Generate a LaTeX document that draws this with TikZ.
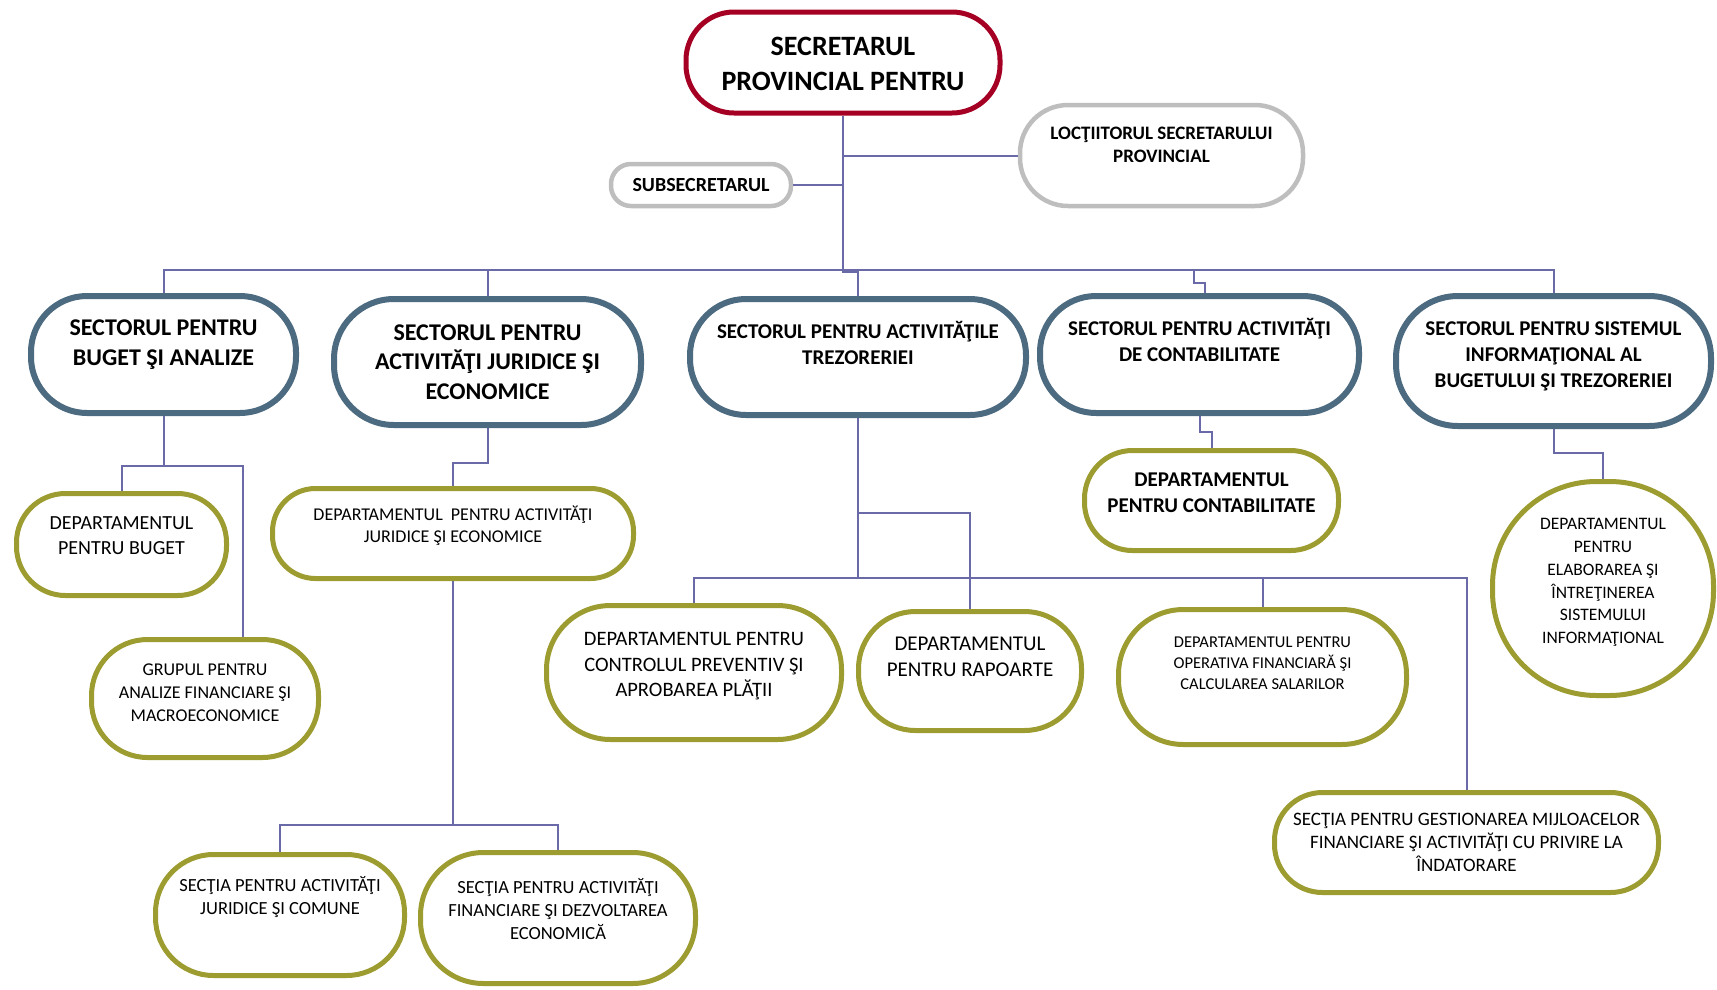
\documentclass[tikz,border=0pt]{standalone}
\usepackage{fontspec}
\setmainfont{Carlito}
\definecolor{secred}{RGB}{165,0,36}
\definecolor{boxgray}{RGB}{190,190,190}
\definecolor{secblue}{RGB}{77,107,128}
\definecolor{deptolive}{RGB}{156,156,48}
\definecolor{linkblue}{RGB}{106,106,168}
\newcommand{\fsz}[2]{\fontsize{#1}{#2}\selectfont}
\tikzset{
  box/.style={rectangle, inner sep=0pt, fill=white},
  redbox/.style={box, draw=secred, line width=5pt},
  graybox/.style={box, draw=boxgray, line width=4.5pt},
  secbox/.style={box, draw=secblue, line width=6pt},
  depbox/.style={box, draw=deptolive, line width=5pt},
  lbl/.style={align=center, inner sep=0pt},
  conn/.style={draw=linkblue, line width=2pt}
}
\begin{document}
\begin{tikzpicture}[x=1pt, y=-1pt]
  \useasboundingbox (0,0) rectangle (1717,989);

  % top level
  \node[redbox, minimum width=314, minimum height=101, rounded corners=48pt] (top) at (843,62.5) {};
  \node[lbl, font=\bfseries\fsz{28}{35}] (topT) at (843,63.5) {SECRETARUL\\PROVINCIAL PENTRU};
  \node[graybox, minimum width=180, minimum height=42, rounded corners=20pt] (sub) at (701,185) {};
  \node[lbl, font=\bfseries\fsz{20}{24}] (subT) at (701,185) {SUBSECRETARUL};
  \node[graybox, minimum width=283, minimum height=101, rounded corners=48pt] (loc) at (1161.5,155.5) {};
  \node[lbl, font=\bfseries\fsz{19}{23}] (locT) at (1161.5,145) {LOCŢIITORUL SECRETARULUI\\PROVINCIAL};

  % sectors
  \node[secbox, minimum width=265, minimum height=117, rounded corners=56pt] (sBuget) at (163.5,354.5) {};
  \node[lbl, font=\bfseries\fsz{24}{29.5}] (sBugetT) at (163.5,344.5) {SECTORUL PENTRU\\BUGET ŞI ANALIZE};
  \node[secbox, minimum width=307, minimum height=126, rounded corners=60pt] (sJuridic) at (487.5,362) {};
  \node[lbl, font=\bfseries\fsz{24}{29.5}] (sJuridicT) at (487.5,362) {SECTORUL PENTRU\\ACTIVITĂŢI JURIDICE ŞI\\ECONOMICE};
  \node[secbox, minimum width=336, minimum height=116, rounded corners=56pt] (sTrez) at (858,357) {};
  \node[lbl, font=\bfseries\fsz{21}{26}] (sTrezT) at (858,343) {SECTORUL PENTRU ACTIVITĂŢILE\\TREZORERIEI};
  \node[secbox, minimum width=319, minimum height=117, rounded corners=56pt] (sContab) at (1199.5,354.5) {};
  \node[lbl, font=\bfseries\fsz{21}{26}] (sContabT) at (1199.5,339.5) {SECTORUL PENTRU ACTIVITĂŢI\\DE CONTABILITATE};
  \node[secbox, minimum width=315, minimum height=130, rounded corners=62pt] (sInfo) at (1553.5,361) {};
  \node[lbl, font=\bfseries\fsz{21}{26}] (sInfoT) at (1553.5,356) {SECTORUL PENTRU SISTEMUL\\INFORMAŢIONAL AL\\BUGETULUI ŞI TREZORERIEI};

  % departments
  \node[depbox, minimum width=210, minimum height=102, rounded corners=49pt] (dBuget) at (121.5,544.5) {};
  \node[lbl, font=\fsz{20}{25}] (dBugetT) at (121.5,536) {DEPARTAMENTUL\\PENTRU BUGET};
  \node[depbox, minimum width=227, minimum height=118, rounded corners=56pt] (gAnalize) at (205,698.5) {};
  \node[lbl, font=\fsz{18}{23}] (gAnalizeT) at (205,693) {GRUPUL PENTRU\\ANALIZE FINANCIARE ŞI\\MACROECONOMICE};
  \node[depbox, minimum width=361, minimum height=90, rounded corners=43pt] (dJuridic) at (453,533.5) {};
  \node[lbl, font=\fsz{18}{22}] (dJuridicT) at (453,526) {DEPARTAMENTUL\ \ PENTRU ACTIVITĂŢI\\JURIDICE ŞI ECONOMICE};
  \node[depbox, minimum width=249, minimum height=121, rounded corners=58pt] (scJuridic) at (280,915) {};
  \node[lbl, font=\fsz{18.5}{23}] (scJuridicT) at (280,897.5) {SECŢIA PENTRU ACTIVITĂŢI\\JURIDICE ŞI COMUNE};
  \node[depbox, minimum width=275, minimum height=131, rounded corners=63pt] (scFinanc) at (558,918) {};
  \node[lbl, font=\fsz{18.5}{23}] (scFinancT) at (558,909) {SECŢIA PENTRU ACTIVITĂŢI\\FINANCIARE ŞI DEZVOLTAREA\\ECONOMICĂ};
  \node[depbox, minimum width=295, minimum height=134, rounded corners=64pt] (dControl) at (694,672.5) {};
  \node[lbl, font=\fsz{20.5}{25.5}] (dControlT) at (694,666.5) {DEPARTAMENTUL PENTRU\\CONTROLUL PREVENTIV ŞI\\APROBAREA PLĂŢII};
  \node[depbox, minimum width=223, minimum height=119, rounded corners=57pt] (dRapoarte) at (970,671) {};
  \node[lbl, font=\fsz{21}{26}] (dRapoarteT) at (970,657) {DEPARTAMENTUL\\PENTRU RAPOARTE};
  \node[depbox, minimum width=288, minimum height=135, rounded corners=65pt] (dOperativa) at (1262.5,677) {};
  \node[lbl, font=\fsz{16.5}{21}] (dOperativaT) at (1262.5,663) {DEPARTAMENTUL PENTRU\\OPERATIVA FINANCIARĂ ŞI\\CALCULAREA SALARILOR};
  \node[depbox, minimum width=384, minimum height=100, rounded corners=48pt] (scGestion) at (1466.5,842.5) {};
  \node[lbl, font=\fsz{19}{23}] (scGestionT) at (1466.5,842) {SECŢIA PENTRU GESTIONAREA MIJLOACELOR\\FINANCIARE ŞI ACTIVITĂŢI CU PRIVIRE LA\\ÎNDATORARE};
  \node[depbox, minimum width=254, minimum height=100, rounded corners=48pt] (dContab) at (1211.5,500.5) {};
  \node[lbl, font=\bfseries\fsz{21}{26}] (dContabT) at (1211.5,493) {DEPARTAMENTUL\\PENTRU CONTABILITATE};
  \node[depbox, minimum width=221, minimum height=214, rounded corners=104pt] (dElab) at (1603,588.5) {};
  \node[lbl, font=\fsz{17.5}{22.7}] (dElabT) at (1603,582.5) {DEPARTAMENTUL\\PENTRU\\ELABORAREA ŞI\\ÎNTREŢINEREA\\SISTEMULUI\\INFORMAŢIONAL};

  % connectors
  \coordinate (bus) at (843,270);
  \draw[conn] (top.south) -- (bus);
  \draw[conn] (sub.east) -- (sub.east -| bus);
  \draw[conn] (top.south |- loc.west) -- (loc.west);
  \draw[conn] (sBuget.north) |- (bus) -| (sInfo.north);
  \draw[conn] (sJuridic.north) -- (sJuridic.north |- bus);
  \draw[conn] (bus) -- ++(0,2) -| (sTrez.north);
  \draw[conn] ([xshift=-6pt]sContab.north |- bus) -- ++(0,13) -| ([xshift=5pt]sContab.north);
  \draw[conn] (sBuget.south) -- ++(0,50) coordinate (b1) -| (dBuget.north);
  \draw[conn] (b1) -| ([xshift=38pt]gAnalize.north);
  \draw[conn] (sJuridic.south) -- ++(0,35) -| (dJuridic.north);
  \draw[conn] (dJuridic.south) -- ++(0,244) coordinate (b2);
  \draw[conn] (scJuridic.north) |- (b2) -| (scFinanc.north);
  \draw[conn] (sTrez.south) -- ++(0,95) coordinate (b4) -| (dRapoarte.north);
  \draw[conn] (b4) -- ++(0,65) coordinate (b3);
  \draw[conn] (dControl.north) |- (b3) -| (scGestion.north);
  \draw[conn] (dOperativa.north) -- (dOperativa.north |- b3);
  \draw[conn] (sContab.south) -- ++(0,16) -| (dContab.north);
  \draw[conn] (sInfo.south) -- ++(0,24) -| (dElab.north);
\end{tikzpicture}
\end{document}
